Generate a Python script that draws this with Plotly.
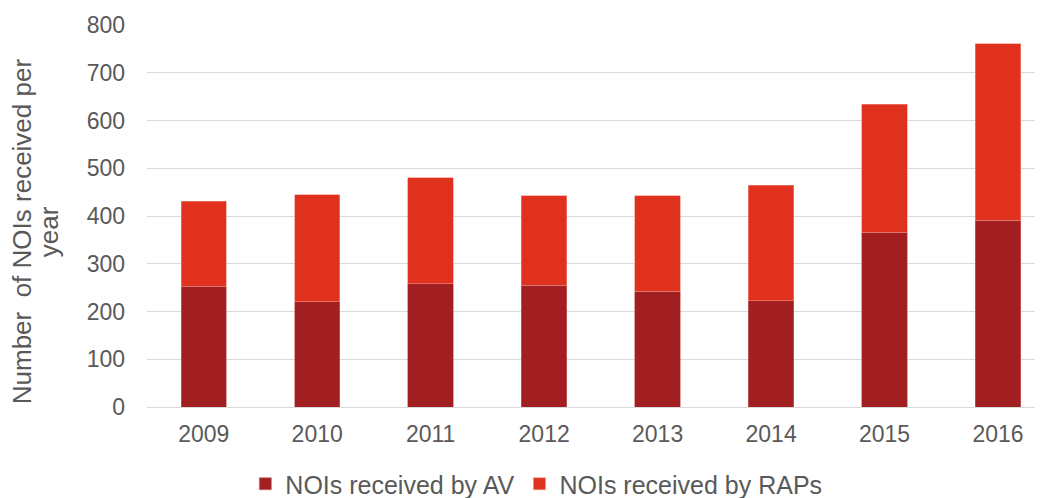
import plotly.graph_objects as go

years = ["2009", "2010", "2011", "2012", "2013", "2014", "2015", "2016"]
av_values = [253, 220, 258, 255, 242, 223, 366, 391]
raps_values = [178, 225, 222, 187, 200, 241, 268, 370]

series_names = ["NOIs received by AV", "NOIs received by RAPs"]
y_ticks = [0, 100, 200, 300, 400, 500, 600, 700, 800]
y_title_lines = ["Number  of NOIs received per", "year"]

AV_COLOR = "#A21F21"
RAP_COLOR = "#E0311F"
TEXT = "#595959"
FONT = "Liberation Sans, Arial, sans-serif"

fig = go.Figure()
fig.add_trace(go.Bar(x=years, y=av_values, name=series_names[0],
                     marker=dict(color=AV_COLOR, line=dict(color="#C86A6A", width=0.6)),
                     width=0.4))
fig.add_trace(go.Bar(x=years, y=raps_values, name=series_names[1],
                     marker=dict(color=RAP_COLOR, line=dict(color="#F29080", width=0.6)),
                     width=0.4))

fig.update_layout(
    barmode="stack",
    width=1035, height=490,
    margin=dict(l=139, r=3, t=17, b=91, autoexpand=False),
    paper_bgcolor="white", plot_bgcolor="white",
    font=dict(family=FONT, size=23, color=TEXT),
    showlegend=True,
    legend=dict(orientation="h", x=0.436, xanchor="center", y=-0.2016, yanchor="middle",
                font=dict(size=25, color=TEXT), traceorder="normal",
                itemwidth=30, bgcolor="rgba(0,0,0,0)"),
    xaxis=dict(type="category", range=[-0.5, 7.37], showgrid=False, automargin=False,
               showline=True, linecolor="#D9D9D9", linewidth=1,
               ticks="", tickfont=dict(size=23, color=TEXT),
               ticklabelstandoff=6),
    yaxis=dict(range=[0, 800], tickvals=y_ticks, showgrid=True, automargin=False,
               gridcolor="#D9D9D9", gridwidth=1, zeroline=False,
               showline=False, ticks="", tickfont=dict(size=23, color=TEXT),
               ticklabelstandoff=21),
    annotations=[
        dict(text=y_title_lines[0], textangle=-90,
             xref="paper", yref="paper", x=-0.140, y=0.46,
             xanchor="center", yanchor="middle", showarrow=False,
             font=dict(size=26, color=TEXT, family=FONT)),
        dict(text=y_title_lines[1], textangle=-90,
             xref="paper", yref="paper", x=-0.1098, y=0.46,
             xanchor="center", yanchor="middle", showarrow=False,
             font=dict(size=26, color=TEXT, family=FONT)),
    ],
)

fig.write_html("out.html")
